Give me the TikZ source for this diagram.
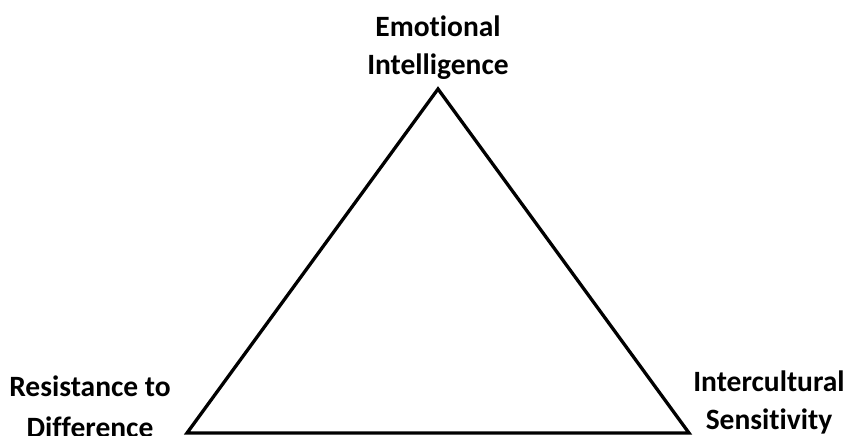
\documentclass[tikz,border=0pt]{standalone}
\usepackage{fontspec}
\setmainfont{Carlito}[Ligatures=NoCommon]
\usetikzlibrary{positioning}

\begin{document}
\begin{tikzpicture}[
  x=1pt, y=-1pt,
  corner/.style={align=center, inner sep=0pt, font=\bfseries\fontsize{29.5}{38}\selectfont},
  side/.style={line width=3.3pt, line join=miter}
]
\useasboundingbox (0,0) rectangle (848,436);
\coordinate (top) at (438,89);
\coordinate (left) at (187,433);
\coordinate (right) at (689,433);
\draw[side] (top) -- (left) -- (right) -- cycle;

\node[corner] (emo) at (438,48) {Emotional\\Intelligence};
\node[corner, font=\bfseries\fontsize{29.5}{41}\selectfont] (res) at (90,407) {Resistance to\\Difference};
\node[corner] (inter) at (769,402) {Intercultural\\Sensitivity};
\end{tikzpicture}
\end{document}
